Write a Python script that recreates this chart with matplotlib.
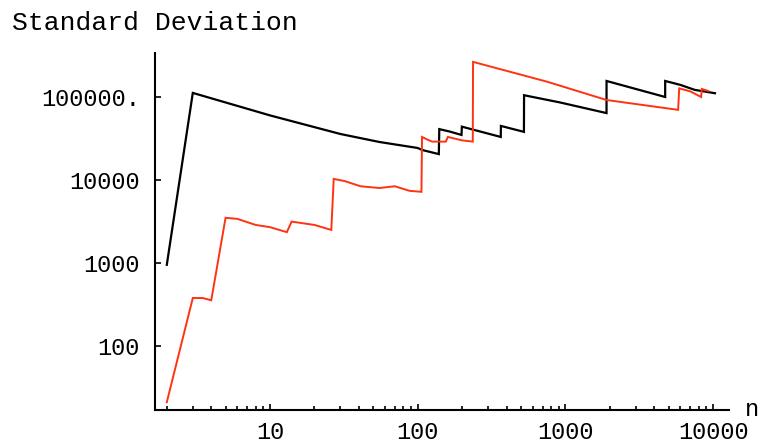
import matplotlib
matplotlib.use("Agg")
import matplotlib.pyplot as plt
from matplotlib.ticker import FixedLocator, NullFormatter, LogLocator

#====================================================================================================

# black curve
black_n  = [2, 3, 10, 30, 55, 100, 107, 139, 140, 165, 198, 199, 365, 366, 524, 525,
            918, 1899, 1900, 4739, 4740, 6000, 7500, 10300]
black_sd = [950, 112000, 60000, 35800, 28700, 24300, 23000, 20500, 41000, 38300, 34900, 43900,
            33000, 44800, 38000, 105000, 86000, 64000, 156000, 100000, 156000, 140000, 122000, 111000]

# red curve
red_n  = [2, 3, 3.5, 4, 5, 6, 8, 10, 13, 14, 20, 26, 27, 32, 41, 55, 70, 88, 106, 107,
          117, 125, 155, 160, 200, 236, 237, 750, 1900, 5800, 5900, 7000, 8300, 8400, 9300]
red_sd = [21, 378, 378, 355, 3500, 3400, 2870, 2700, 2350, 3150, 2870, 2500, 10300, 9700, 8400,
          8000, 8400, 7400, 7200, 33000, 30500, 29000, 29000, 33000, 30000, 29000, 265000,
          153000, 92000, 70000, 127000, 117000, 100000, 125000, 118000]

y_ticks       = [100, 1000, 10000, 100000]
y_tick_labels = ["100", "1000", "10000", "100000."]
x_ticks       = [10, 100, 1000, 10000]
x_tick_labels = ["10", "100", "1000", "10000"]

#====================================================================================================

def main():

    plt.rcParams["font.family"] = "Liberation Mono"

    fig = plt.figure(figsize = (7.62, 4.45), dpi = 100)
    axis = fig.add_axes([155/762, 1 - 410/445, (729 - 155)/762, (410 - 53)/445])

    axis.plot(black_n, black_sd, c = "black", lw = 1.6, solid_joinstyle = "miter")
    axis.plot(red_n, red_sd, c = "#ff3311", lw = 1.4, solid_joinstyle = "miter")

    axis.set_xscale("log")
    axis.set_yscale("log")
    axis.set_xlim(1.664, 12820)
    axis.set_ylim(16.9, 339000)

    axis.spines["top"].set_visible(False)
    axis.spines["right"].set_visible(False)
    axis.spines["left"].set_linewidth(1.5)
    axis.spines["bottom"].set_linewidth(1.5)

    axis.set_xticks(x_ticks)
    axis.set_xticklabels(x_tick_labels)
    axis.xaxis.set_minor_locator(LogLocator(base = 10, subs = range(2, 10)))
    axis.xaxis.set_minor_formatter(NullFormatter())

    axis.set_yticks(y_ticks)
    axis.set_yticklabels(y_tick_labels)
    axis.yaxis.set_minor_locator(FixedLocator([]))

    axis.tick_params(axis = "both", which = "both", direction = "in", width = 1.2, labelsize = 17)
    axis.tick_params(axis = "both", which = "major", length = 4)
    axis.tick_params(axis = "x", which = "minor", length = 3)
    axis.tick_params(axis = "y", pad = 11)
    axis.tick_params(axis = "x", pad = 8)

    fig.text(12/762, 1 - 30/445, "Standard Deviation", fontsize = 19, va = "baseline", ha = "left")
    fig.text(745/762, 1 - 416/445, "n", fontsize = 17, va = "baseline", ha = "left")

    fig.savefig("out.png", dpi = 100)

#====================================================================================================

if __name__ == "__main__":
    main()
